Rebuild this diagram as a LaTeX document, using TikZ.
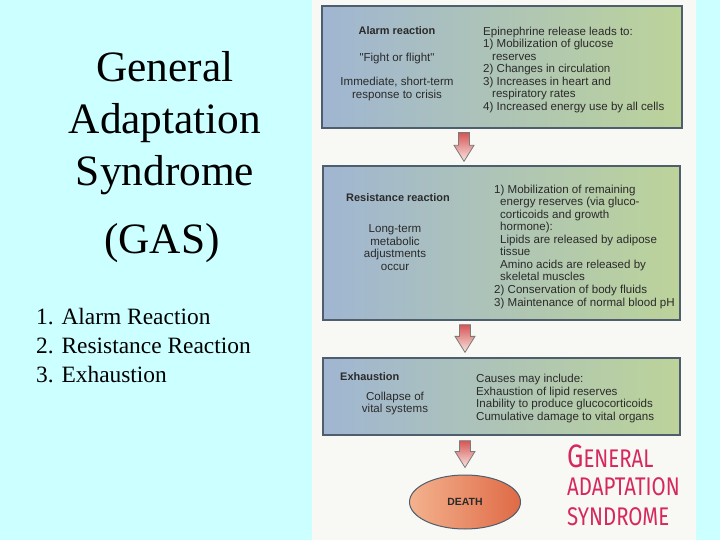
\documentclass[tikz,border=0pt]{standalone}
\usepackage{fontspec}
\setmainfont{Liberation Serif}
\newfontfamily\hv{Liberation Sans}
\newfontfamily\hand{Fira Sans}
\usetikzlibrary{calc,shapes.geometric}
\definecolor{bgcyan}{HTML}{CCFFFF}
\definecolor{panelwhite}{HTML}{F8F8F5}
\definecolor{boxblue}{HTML}{A0B6D2}
\definecolor{boxgreen}{HTML}{BCD39A}
\definecolor{boxline}{HTML}{4E5E6C}
\definecolor{boxtext}{HTML}{2A2A2A}
\definecolor{arrowred}{HTML}{D65656}
\definecolor{arrowlight}{HTML}{F9E6E0}
\definecolor{arrowline}{HTML}{7A7A7A}
\definecolor{deathlight}{HTML}{F4B28E}
\definecolor{deathdark}{HTML}{DF6A46}
\definecolor{inkred}{HTML}{D6285E}
\tikzset{
  stagebox/.style={draw=boxline, line width=1.3bp, left color=boxblue, right color=boxgreen, inner sep=0pt},
  txtl/.style={font=\hv\fontsize{11.6}{12.6}\selectfont, text=boxtext, inner sep=0pt, align=left, anchor=north west},
  txtc/.style={font=\hv\fontsize{11.6}{12.6}\selectfont, text=boxtext, inner sep=0pt, align=center, anchor=north},
  txtb/.style={font=\hv\bfseries\fontsize{11}{12.6}\selectfont, text=boxtext, inner sep=0pt},
  gasarrowstyle/.style={draw=arrowline, line width=0.8bp, top color=arrowred, bottom color=arrowlight},
  deathnode/.style={ellipse, draw=boxline, line width=1bp, left color=deathlight, right color=deathdark, minimum width=111bp, minimum height=54bp, inner sep=0pt, font=\hv\bfseries\fontsize{10.5}{12}\selectfont, text=boxtext},
  titletxt/.style={font=\fontsize{43.5}{52}\selectfont, inner sep=0pt, anchor=base},
  listtxt/.style={font=\fontsize{23.5}{29}\selectfont, inner sep=0pt, anchor=base west},
  handtxt/.style={font=\hand\fontsize{20.5}{24}\selectfont, text=inkred, inner sep=0pt, anchor=base west}
}
\newcommand{\gasarrow}[2]{%
  \path[gasarrowstyle] ($(#1)+(-5.5,0)$) -- ($(#1)+(5.5,0)$) -- ($(#2)+(5.5,-16)$) -- ($(#2)+(10,-16)$) -- (#2) -- ($(#2)+(-10,-16)$) -- ($(#2)+(-5.5,-16)$) -- cycle;}
\begin{document}
\begin{tikzpicture}[x=1bp,y=-1bp]
\useasboundingbox (0,0) rectangle (720,540);
\fill[bgcyan] (0,0) rectangle (720,540);
\fill[panelwhite] (312,0) rectangle (696,540);

% left title
\node[titletxt] (t1) at (165,82) {General};
\node[titletxt] (t2) at (165,134) {Adaptation};
\node[titletxt] (t3) at (165,186) {Syndrome};
\node[titletxt] (t4) at (162,254) {(GAS)};
\node[listtxt] (l1) at (36,324) {1. Alarm Reaction};
\node[listtxt] (l2) at (36,353) {2. Resistance Reaction};
\node[listtxt] (l3) at (36,382) {3. Exhaustion};

% boxes
\node[stagebox, minimum width=360bp, minimum height=122bp] (alarm) at (502,67) {};
\node[stagebox, minimum width=357bp, minimum height=154bp] (resist) at (501.5,243) {};
\node[stagebox, minimum width=357bp, minimum height=77bp] (exh) at (501.5,396.5) {};
\node[deathnode] (death) at (465,502) {DEATH};

% alarm text
\node[txtb, anchor=base] (a1) at (397,35) {Alarm reaction};
\node[txtc, anchor=base] (a2) at (397,62) {"Fight or flight"};
\node[txtc] (a3) at (397,76.5) {Immediate, short-term\\[1.2bp]response to crisis};
\node[txtl] (a4) at (483,26.5) {Epinephrine release leads to:\\1) Mobilization of glucose\\\hspace*{9bp}reserves\\2) Changes in circulation\\3) Increases in heart and\\\hspace*{9bp}respiratory rates\\4) Increased energy use by all cells};

% resistance text
\node[txtb, anchor=base] (r1) at (398,202) {Resistance reaction};
\node[txtc] (r2) at (395,224.5) {Long-term\\metabolic\\adjustments\\occur};
\node[txtl] (r3) at (494,184.5) {1) Mobilization of remaining\\\hspace*{6bp}energy reserves (via gluco-\\\hspace*{6bp}corticoids and growth\\\hspace*{6bp}hormone):\\\hspace*{6bp}Lipids are released by adipose\\\hspace*{6bp}tissue\\\hspace*{6bp}Amino acids are released by\\\hspace*{6bp}skeletal muscles\\2) Conservation of body fluids\\3) Maintenance of normal blood pH};

% exhaustion text
\node[txtb, anchor=base west] (e1) at (340,380) {Exhaustion};
\node[txtc] (e2) at (395,391.5) {Collapse of\\vital systems};
\node[txtl] (e3) at (476,373.5) {Causes may include:\\[0.4bp]Exhaustion of lipid reserves\\[0.4bp]Inability to produce glucocorticoids\\[0.4bp]Cumulative damage to vital organs};

% arrows
\coordinate (s1) at ($(alarm.south)+(-38,4)$);
\coordinate (e1t) at ($(resist.north)+(-37.5,-4)$);
\coordinate (s2) at ($(resist.south)+(-36.5,4)$);
\coordinate (e2t) at ($(exh.north)+(-36.5,-5)$);
\coordinate (s3) at ($(exh.south)+(-36.5,5)$);
\coordinate (e3t) at ($(death.north)+(0,-7)$);
\gasarrow{s1}{e1t}
\gasarrow{s2}{e2t}
\gasarrow{s3}{e3t}

% handwriting
\node[handtxt] (h1) at (567,467) {\scalebox{1}[1.25]{{\fontsize{26}{26}\selectfont G}ENERAL}};
\node[handtxt] (h2) at (567,495) {\scalebox{1}[1.25]{ADAPTATION}};
\node[handtxt] (h3) at (567,525) {\scalebox{1}[1.25]{SYNDROME}};
\end{tikzpicture}
\end{document}
